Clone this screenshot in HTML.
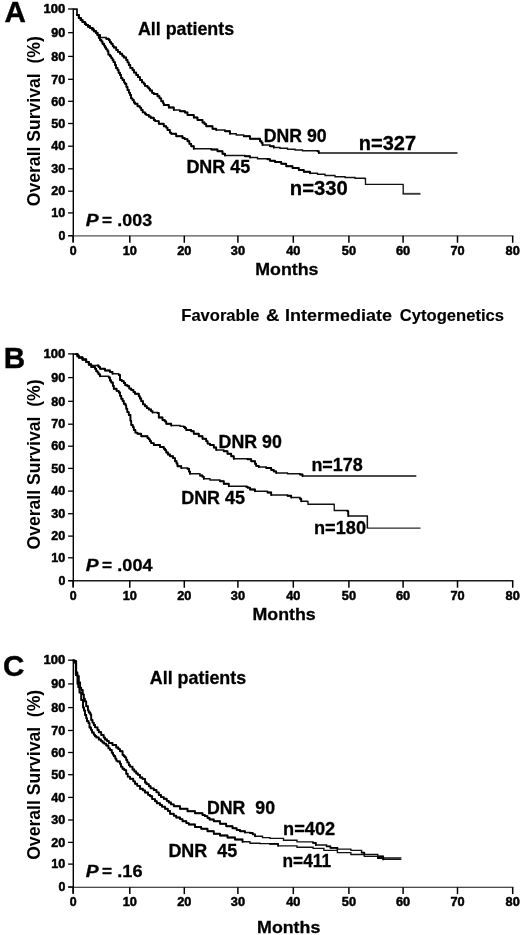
<!DOCTYPE html>
<html><head><meta charset="utf-8"><title>Overall survival</title>
<style>
html,body{margin:0;padding:0;background:#fff;}
body{width:520px;height:935px;overflow:hidden;}
svg{display:block;will-change:transform;}
svg text{font-family:"Liberation Sans",sans-serif;font-weight:bold;fill:#000;}
</style></head><body>
<svg width="520" height="935" viewBox="0 0 520 935">
<rect width="520" height="935" fill="#fff"/>
<line x1="73.30" y1="8.40" x2="73.30" y2="241.70" stroke="#000" stroke-width="1.4"/>
<line x1="68.30" y1="235.85" x2="513.40" y2="235.85" stroke="#555" stroke-width="1.40"/>
<line x1="68.10" y1="9.00" x2="73.30" y2="9.00" stroke="#000" stroke-width="1.3"/>
<text x="65.30" y="13.20" font-size="13.20" text-anchor="end" textLength="21.8" lengthAdjust="spacingAndGlyphs" stroke="#000" stroke-width="0.5" style="">100</text>
<line x1="68.10" y1="32.70" x2="73.30" y2="32.70" stroke="#000" stroke-width="1.3"/>
<text x="65.30" y="36.90" font-size="13.20" text-anchor="end" textLength="14.0" lengthAdjust="spacingAndGlyphs" stroke="#000" stroke-width="0.5" style="">90</text>
<line x1="68.10" y1="56.40" x2="73.30" y2="56.40" stroke="#000" stroke-width="1.3"/>
<text x="65.30" y="60.60" font-size="13.20" text-anchor="end" textLength="14.0" lengthAdjust="spacingAndGlyphs" stroke="#000" stroke-width="0.5" style="">80</text>
<line x1="68.10" y1="79.30" x2="73.30" y2="79.30" stroke="#000" stroke-width="1.3"/>
<text x="65.30" y="83.50" font-size="13.20" text-anchor="end" textLength="14.0" lengthAdjust="spacingAndGlyphs" stroke="#000" stroke-width="0.5" style="">70</text>
<line x1="68.10" y1="101.30" x2="73.30" y2="101.30" stroke="#000" stroke-width="1.3"/>
<text x="65.30" y="105.50" font-size="13.20" text-anchor="end" textLength="14.0" lengthAdjust="spacingAndGlyphs" stroke="#000" stroke-width="0.5" style="">60</text>
<line x1="68.10" y1="123.50" x2="73.30" y2="123.50" stroke="#000" stroke-width="1.3"/>
<text x="65.30" y="127.70" font-size="13.20" text-anchor="end" textLength="14.0" lengthAdjust="spacingAndGlyphs" stroke="#000" stroke-width="0.5" style="">50</text>
<line x1="68.10" y1="146.20" x2="73.30" y2="146.20" stroke="#000" stroke-width="1.3"/>
<text x="65.30" y="150.40" font-size="13.20" text-anchor="end" textLength="14.0" lengthAdjust="spacingAndGlyphs" stroke="#000" stroke-width="0.5" style="">40</text>
<line x1="68.10" y1="168.80" x2="73.30" y2="168.80" stroke="#000" stroke-width="1.3"/>
<text x="65.30" y="173.00" font-size="13.20" text-anchor="end" textLength="14.0" lengthAdjust="spacingAndGlyphs" stroke="#000" stroke-width="0.5" style="">30</text>
<line x1="68.10" y1="191.20" x2="73.30" y2="191.20" stroke="#000" stroke-width="1.3"/>
<text x="65.30" y="195.40" font-size="13.20" text-anchor="end" textLength="14.0" lengthAdjust="spacingAndGlyphs" stroke="#000" stroke-width="0.5" style="">20</text>
<line x1="68.10" y1="212.90" x2="73.30" y2="212.90" stroke="#000" stroke-width="1.3"/>
<text x="65.30" y="217.10" font-size="13.20" text-anchor="end" textLength="14.0" lengthAdjust="spacingAndGlyphs" stroke="#000" stroke-width="0.5" style="">10</text>
<line x1="68.10" y1="235.70" x2="73.30" y2="235.70" stroke="#000" stroke-width="1.3"/>
<text x="65.30" y="239.90" font-size="13.20" text-anchor="end" textLength="6.9" lengthAdjust="spacingAndGlyphs" stroke="#000" stroke-width="0.5" style="">0</text>
<line x1="73.10" y1="235.85" x2="73.10" y2="242.75" stroke="#000" stroke-width="1.5"/>
<text x="73.10" y="255.05" font-size="13.20" text-anchor="middle" textLength="6.9" lengthAdjust="spacingAndGlyphs" stroke="#000" stroke-width="0.5" style="">0</text>
<line x1="129.80" y1="235.85" x2="129.80" y2="242.75" stroke="#000" stroke-width="1.5"/>
<text x="129.80" y="255.05" font-size="13.20" text-anchor="middle" textLength="14.2" lengthAdjust="spacingAndGlyphs" stroke="#000" stroke-width="0.5" style="">10</text>
<line x1="184.30" y1="235.85" x2="184.30" y2="242.75" stroke="#000" stroke-width="1.5"/>
<text x="184.30" y="255.05" font-size="13.20" text-anchor="middle" textLength="14.2" lengthAdjust="spacingAndGlyphs" stroke="#000" stroke-width="0.5" style="">20</text>
<line x1="237.90" y1="235.85" x2="237.90" y2="242.75" stroke="#000" stroke-width="1.5"/>
<text x="237.90" y="255.05" font-size="13.20" text-anchor="middle" textLength="14.2" lengthAdjust="spacingAndGlyphs" stroke="#000" stroke-width="0.5" style="">30</text>
<line x1="293.30" y1="235.85" x2="293.30" y2="242.75" stroke="#000" stroke-width="1.5"/>
<text x="293.30" y="255.05" font-size="13.20" text-anchor="middle" textLength="14.2" lengthAdjust="spacingAndGlyphs" stroke="#000" stroke-width="0.5" style="">40</text>
<line x1="348.90" y1="235.85" x2="348.90" y2="242.75" stroke="#000" stroke-width="1.5"/>
<text x="348.90" y="255.05" font-size="13.20" text-anchor="middle" textLength="14.2" lengthAdjust="spacingAndGlyphs" stroke="#000" stroke-width="0.5" style="">50</text>
<line x1="403.10" y1="235.85" x2="403.10" y2="242.75" stroke="#000" stroke-width="1.5"/>
<text x="403.10" y="255.05" font-size="13.20" text-anchor="middle" textLength="14.2" lengthAdjust="spacingAndGlyphs" stroke="#000" stroke-width="0.5" style="">60</text>
<line x1="457.50" y1="235.85" x2="457.50" y2="242.75" stroke="#000" stroke-width="1.5"/>
<text x="457.50" y="255.05" font-size="13.20" text-anchor="middle" textLength="14.2" lengthAdjust="spacingAndGlyphs" stroke="#000" stroke-width="0.5" style="">70</text>
<line x1="512.70" y1="235.85" x2="512.70" y2="242.75" stroke="#000" stroke-width="1.5"/>
<text x="512.70" y="255.05" font-size="13.20" text-anchor="middle" textLength="14.2" lengthAdjust="spacingAndGlyphs" stroke="#000" stroke-width="0.5" style="">80</text>
<text transform="translate(39.9 121.20) rotate(-90)" font-size="18.2" text-anchor="middle" textLength="170" lengthAdjust="spacingAndGlyphs" xml:space="preserve">Overall Survival  (%)</text>
<text x="255.30" y="274.90" font-size="17.40" text-anchor="start" textLength="63.2" lengthAdjust="spacingAndGlyphs" stroke="#000" stroke-width="0.3" style="">Months</text>
<text x="4.40" y="21.90" font-size="29.60" text-anchor="start" stroke="#000" stroke-width="0.4" style="">A</text>
<line x1="73.30" y1="353.30" x2="73.30" y2="586.60" stroke="#000" stroke-width="1.4"/>
<line x1="68.30" y1="580.85" x2="513.40" y2="580.85" stroke="#1a1a1a" stroke-width="1.50"/>
<line x1="68.10" y1="353.90" x2="73.30" y2="353.90" stroke="#000" stroke-width="1.3"/>
<text x="65.30" y="358.10" font-size="13.20" text-anchor="end" textLength="21.8" lengthAdjust="spacingAndGlyphs" stroke="#000" stroke-width="0.5" style="">100</text>
<line x1="68.10" y1="377.60" x2="73.30" y2="377.60" stroke="#000" stroke-width="1.3"/>
<text x="65.30" y="381.80" font-size="13.20" text-anchor="end" textLength="14.0" lengthAdjust="spacingAndGlyphs" stroke="#000" stroke-width="0.5" style="">90</text>
<line x1="68.10" y1="401.30" x2="73.30" y2="401.30" stroke="#000" stroke-width="1.3"/>
<text x="65.30" y="405.50" font-size="13.20" text-anchor="end" textLength="14.0" lengthAdjust="spacingAndGlyphs" stroke="#000" stroke-width="0.5" style="">80</text>
<line x1="68.10" y1="424.20" x2="73.30" y2="424.20" stroke="#000" stroke-width="1.3"/>
<text x="65.30" y="428.40" font-size="13.20" text-anchor="end" textLength="14.0" lengthAdjust="spacingAndGlyphs" stroke="#000" stroke-width="0.5" style="">70</text>
<line x1="68.10" y1="446.20" x2="73.30" y2="446.20" stroke="#000" stroke-width="1.3"/>
<text x="65.30" y="450.40" font-size="13.20" text-anchor="end" textLength="14.0" lengthAdjust="spacingAndGlyphs" stroke="#000" stroke-width="0.5" style="">60</text>
<line x1="68.10" y1="468.40" x2="73.30" y2="468.40" stroke="#000" stroke-width="1.3"/>
<text x="65.30" y="472.60" font-size="13.20" text-anchor="end" textLength="14.0" lengthAdjust="spacingAndGlyphs" stroke="#000" stroke-width="0.5" style="">50</text>
<line x1="68.10" y1="491.10" x2="73.30" y2="491.10" stroke="#000" stroke-width="1.3"/>
<text x="65.30" y="495.30" font-size="13.20" text-anchor="end" textLength="14.0" lengthAdjust="spacingAndGlyphs" stroke="#000" stroke-width="0.5" style="">40</text>
<line x1="68.10" y1="513.70" x2="73.30" y2="513.70" stroke="#000" stroke-width="1.3"/>
<text x="65.30" y="517.90" font-size="13.20" text-anchor="end" textLength="14.0" lengthAdjust="spacingAndGlyphs" stroke="#000" stroke-width="0.5" style="">30</text>
<line x1="68.10" y1="536.10" x2="73.30" y2="536.10" stroke="#000" stroke-width="1.3"/>
<text x="65.30" y="540.30" font-size="13.20" text-anchor="end" textLength="14.0" lengthAdjust="spacingAndGlyphs" stroke="#000" stroke-width="0.5" style="">20</text>
<line x1="68.10" y1="557.80" x2="73.30" y2="557.80" stroke="#000" stroke-width="1.3"/>
<text x="65.30" y="562.00" font-size="13.20" text-anchor="end" textLength="14.0" lengthAdjust="spacingAndGlyphs" stroke="#000" stroke-width="0.5" style="">10</text>
<line x1="68.10" y1="580.60" x2="73.30" y2="580.60" stroke="#000" stroke-width="1.3"/>
<text x="65.30" y="584.80" font-size="13.20" text-anchor="end" textLength="6.9" lengthAdjust="spacingAndGlyphs" stroke="#000" stroke-width="0.5" style="">0</text>
<line x1="73.10" y1="580.85" x2="73.10" y2="587.75" stroke="#000" stroke-width="1.5"/>
<text x="73.10" y="600.05" font-size="13.20" text-anchor="middle" textLength="6.9" lengthAdjust="spacingAndGlyphs" stroke="#000" stroke-width="0.5" style="">0</text>
<line x1="129.80" y1="580.85" x2="129.80" y2="587.75" stroke="#000" stroke-width="1.5"/>
<text x="129.80" y="600.05" font-size="13.20" text-anchor="middle" textLength="14.2" lengthAdjust="spacingAndGlyphs" stroke="#000" stroke-width="0.5" style="">10</text>
<line x1="184.30" y1="580.85" x2="184.30" y2="587.75" stroke="#000" stroke-width="1.5"/>
<text x="184.30" y="600.05" font-size="13.20" text-anchor="middle" textLength="14.2" lengthAdjust="spacingAndGlyphs" stroke="#000" stroke-width="0.5" style="">20</text>
<line x1="237.90" y1="580.85" x2="237.90" y2="587.75" stroke="#000" stroke-width="1.5"/>
<text x="237.90" y="600.05" font-size="13.20" text-anchor="middle" textLength="14.2" lengthAdjust="spacingAndGlyphs" stroke="#000" stroke-width="0.5" style="">30</text>
<line x1="293.30" y1="580.85" x2="293.30" y2="587.75" stroke="#000" stroke-width="1.5"/>
<text x="293.30" y="600.05" font-size="13.20" text-anchor="middle" textLength="14.2" lengthAdjust="spacingAndGlyphs" stroke="#000" stroke-width="0.5" style="">40</text>
<line x1="348.90" y1="580.85" x2="348.90" y2="587.75" stroke="#000" stroke-width="1.5"/>
<text x="348.90" y="600.05" font-size="13.20" text-anchor="middle" textLength="14.2" lengthAdjust="spacingAndGlyphs" stroke="#000" stroke-width="0.5" style="">50</text>
<line x1="403.10" y1="580.85" x2="403.10" y2="587.75" stroke="#000" stroke-width="1.5"/>
<text x="403.10" y="600.05" font-size="13.20" text-anchor="middle" textLength="14.2" lengthAdjust="spacingAndGlyphs" stroke="#000" stroke-width="0.5" style="">60</text>
<line x1="457.50" y1="580.85" x2="457.50" y2="587.75" stroke="#000" stroke-width="1.5"/>
<text x="457.50" y="600.05" font-size="13.20" text-anchor="middle" textLength="14.2" lengthAdjust="spacingAndGlyphs" stroke="#000" stroke-width="0.5" style="">70</text>
<line x1="512.70" y1="580.85" x2="512.70" y2="587.75" stroke="#000" stroke-width="1.5"/>
<text x="512.70" y="600.05" font-size="13.20" text-anchor="middle" textLength="14.2" lengthAdjust="spacingAndGlyphs" stroke="#000" stroke-width="0.5" style="">80</text>
<text transform="translate(39.9 464.50) rotate(-90)" font-size="18.2" text-anchor="middle" textLength="170" lengthAdjust="spacingAndGlyphs" xml:space="preserve">Overall Survival  (%)</text>
<text x="252.50" y="619.90" font-size="17.40" text-anchor="start" textLength="63.2" lengthAdjust="spacingAndGlyphs" stroke="#000" stroke-width="0.3" style="">Months</text>
<text x="3.70" y="368.30" font-size="29.60" text-anchor="start" stroke="#000" stroke-width="0.4" style="">B</text>
<line x1="73.30" y1="659.60" x2="73.30" y2="892.90" stroke="#000" stroke-width="1.4"/>
<line x1="68.30" y1="887.20" x2="513.40" y2="887.20" stroke="#111" stroke-width="1.10"/>
<line x1="68.10" y1="660.20" x2="73.30" y2="660.20" stroke="#000" stroke-width="1.3"/>
<text x="65.30" y="664.40" font-size="13.20" text-anchor="end" textLength="21.8" lengthAdjust="spacingAndGlyphs" stroke="#000" stroke-width="0.5" style="">100</text>
<line x1="68.10" y1="683.90" x2="73.30" y2="683.90" stroke="#000" stroke-width="1.3"/>
<text x="65.30" y="688.10" font-size="13.20" text-anchor="end" textLength="14.0" lengthAdjust="spacingAndGlyphs" stroke="#000" stroke-width="0.5" style="">90</text>
<line x1="68.10" y1="707.60" x2="73.30" y2="707.60" stroke="#000" stroke-width="1.3"/>
<text x="65.30" y="711.80" font-size="13.20" text-anchor="end" textLength="14.0" lengthAdjust="spacingAndGlyphs" stroke="#000" stroke-width="0.5" style="">80</text>
<line x1="68.10" y1="730.50" x2="73.30" y2="730.50" stroke="#000" stroke-width="1.3"/>
<text x="65.30" y="734.70" font-size="13.20" text-anchor="end" textLength="14.0" lengthAdjust="spacingAndGlyphs" stroke="#000" stroke-width="0.5" style="">70</text>
<line x1="68.10" y1="752.50" x2="73.30" y2="752.50" stroke="#000" stroke-width="1.3"/>
<text x="65.30" y="756.70" font-size="13.20" text-anchor="end" textLength="14.0" lengthAdjust="spacingAndGlyphs" stroke="#000" stroke-width="0.5" style="">60</text>
<line x1="68.10" y1="774.70" x2="73.30" y2="774.70" stroke="#000" stroke-width="1.3"/>
<text x="65.30" y="778.90" font-size="13.20" text-anchor="end" textLength="14.0" lengthAdjust="spacingAndGlyphs" stroke="#000" stroke-width="0.5" style="">50</text>
<line x1="68.10" y1="797.40" x2="73.30" y2="797.40" stroke="#000" stroke-width="1.3"/>
<text x="65.30" y="801.60" font-size="13.20" text-anchor="end" textLength="14.0" lengthAdjust="spacingAndGlyphs" stroke="#000" stroke-width="0.5" style="">40</text>
<line x1="68.10" y1="820.00" x2="73.30" y2="820.00" stroke="#000" stroke-width="1.3"/>
<text x="65.30" y="824.20" font-size="13.20" text-anchor="end" textLength="14.0" lengthAdjust="spacingAndGlyphs" stroke="#000" stroke-width="0.5" style="">30</text>
<line x1="68.10" y1="842.40" x2="73.30" y2="842.40" stroke="#000" stroke-width="1.3"/>
<text x="65.30" y="846.60" font-size="13.20" text-anchor="end" textLength="14.0" lengthAdjust="spacingAndGlyphs" stroke="#000" stroke-width="0.5" style="">20</text>
<line x1="68.10" y1="864.10" x2="73.30" y2="864.10" stroke="#000" stroke-width="1.3"/>
<text x="65.30" y="868.30" font-size="13.20" text-anchor="end" textLength="14.0" lengthAdjust="spacingAndGlyphs" stroke="#000" stroke-width="0.5" style="">10</text>
<line x1="68.10" y1="886.90" x2="73.30" y2="886.90" stroke="#000" stroke-width="1.3"/>
<text x="65.30" y="891.10" font-size="13.20" text-anchor="end" textLength="6.9" lengthAdjust="spacingAndGlyphs" stroke="#000" stroke-width="0.5" style="">0</text>
<line x1="73.10" y1="887.20" x2="73.10" y2="894.10" stroke="#000" stroke-width="1.5"/>
<text x="73.10" y="906.40" font-size="13.20" text-anchor="middle" textLength="6.9" lengthAdjust="spacingAndGlyphs" stroke="#000" stroke-width="0.5" style="">0</text>
<line x1="129.80" y1="887.20" x2="129.80" y2="894.10" stroke="#000" stroke-width="1.5"/>
<text x="129.80" y="906.40" font-size="13.20" text-anchor="middle" textLength="14.2" lengthAdjust="spacingAndGlyphs" stroke="#000" stroke-width="0.5" style="">10</text>
<line x1="184.30" y1="887.20" x2="184.30" y2="894.10" stroke="#000" stroke-width="1.5"/>
<text x="184.30" y="906.40" font-size="13.20" text-anchor="middle" textLength="14.2" lengthAdjust="spacingAndGlyphs" stroke="#000" stroke-width="0.5" style="">20</text>
<line x1="237.90" y1="887.20" x2="237.90" y2="894.10" stroke="#000" stroke-width="1.5"/>
<text x="237.90" y="906.40" font-size="13.20" text-anchor="middle" textLength="14.2" lengthAdjust="spacingAndGlyphs" stroke="#000" stroke-width="0.5" style="">30</text>
<line x1="293.30" y1="887.20" x2="293.30" y2="894.10" stroke="#000" stroke-width="1.5"/>
<text x="293.30" y="906.40" font-size="13.20" text-anchor="middle" textLength="14.2" lengthAdjust="spacingAndGlyphs" stroke="#000" stroke-width="0.5" style="">40</text>
<line x1="348.90" y1="887.20" x2="348.90" y2="894.10" stroke="#000" stroke-width="1.5"/>
<text x="348.90" y="906.40" font-size="13.20" text-anchor="middle" textLength="14.2" lengthAdjust="spacingAndGlyphs" stroke="#000" stroke-width="0.5" style="">50</text>
<line x1="403.10" y1="887.20" x2="403.10" y2="894.10" stroke="#000" stroke-width="1.5"/>
<text x="403.10" y="906.40" font-size="13.20" text-anchor="middle" textLength="14.2" lengthAdjust="spacingAndGlyphs" stroke="#000" stroke-width="0.5" style="">60</text>
<line x1="457.50" y1="887.20" x2="457.50" y2="894.10" stroke="#000" stroke-width="1.5"/>
<text x="457.50" y="906.40" font-size="13.20" text-anchor="middle" textLength="14.2" lengthAdjust="spacingAndGlyphs" stroke="#000" stroke-width="0.5" style="">70</text>
<line x1="512.70" y1="887.20" x2="512.70" y2="894.10" stroke="#000" stroke-width="1.5"/>
<text x="512.70" y="906.40" font-size="13.20" text-anchor="middle" textLength="14.2" lengthAdjust="spacingAndGlyphs" stroke="#000" stroke-width="0.5" style="">80</text>
<text transform="translate(39.9 774.80) rotate(-90)" font-size="18.2" text-anchor="middle" textLength="170" lengthAdjust="spacingAndGlyphs" xml:space="preserve">Overall Survival  (%)</text>
<text x="257.10" y="932.50" font-size="17.40" text-anchor="start" textLength="63.2" lengthAdjust="spacingAndGlyphs" stroke="#000" stroke-width="0.3" style="">Months</text>
<text x="2.90" y="676.00" font-size="29.60" text-anchor="start" stroke="#000" stroke-width="0.4" style="">C</text>
<path d="M402.6 193.8 H420.5" fill="none" stroke="#3a3a3a" stroke-width="1.9"/>
<path d="M367.4 516.1 V528 H420.5" fill="none" stroke="#2a2a2a" stroke-width="1.25"/>
<path d="M73.25 9.25 H76.25 V9.25 H77.00 V15.00 H78.75 V18.00 H80.52 V20.12 H82.50 V22.00 H84.71 V24.15 H86.25 V25.00 H87.89 V26.01 H90.00 V28.00 H92.72 V29.09 H93.75 V31.25 H96.08 V32.89 H97.50 V35.00 H100.00 V37.50 H106.25 V38.75 H108.75 V40.00 H109.82 V42.26 H111.25 V43.75 H112.65 V46.09 H113.75 V47.50 H116.25 V50.00 H117.85 V51.88 H120.00 V53.75 H122.28 V55.74 H123.75 V57.50 H126.25 V60.00 H127.52 V62.40 H128.75 V65.00 H130.32 V67.93 H132.50 V70.00 H133.97 V72.53 H136.25 V75.00 H138.06 V77.20 H140.00 V80.00 H142.00 V82.44 H143.75 V83.75 H144.92 V85.91 H147.50 V87.50 H148.93 V88.71 H150.00 V90.50 H152.06 V92.78 H153.75 V94.00 H157.50 V96.25 H159.48 V98.37 H161.25 V101.25 H163.11 V103.10 H163.75 V105.00 H168.75 V107.50 H173.75 V110.00 H180.00 V111.25 H185.00 V112.50 H187.50 V115.00 H193.75 V117.50 H197.50 V120.00 H202.50 V122.50 H204.51 V124.07 H206.25 V126.25 H212.50 V128.75 H216.25 V130.00 H225.00 V131.25 H230.00 V133.75 H236.25 V135.00 H243.75 V136.25 H250.00 V138.75 H260.00 V141.25 H261.49 V142.72 H262.50 V145.00 H270.00 V146.25 H273.75 V147.50 H280.00 V148.25 H287.50 V149.25 H295.00 V150.00 H302.50 V150.75 H317.50 V151.25 H318.75 V153.00 H457.50 V153.00" fill="none" stroke="#111" stroke-width="1.35" stroke-linejoin="miter"/>
<path d="M77.00 15.00 H78.75 V18.00 M78.75 18.00 H80.52 V20.12 H82.50 V22.00 M82.50 22.00 H84.71 V24.15 H86.25 V25.00 M86.25 25.00 H87.89 V26.01 H90.00 V28.00 M90.00 28.00 H92.72 V29.09 H93.75 V31.25 M93.75 31.25 H96.08 V32.89 H97.50 V35.00 M97.50 35.00 H100.00 V37.50 M106.25 38.75 H108.75 V40.00 M108.75 40.00 H109.82 V42.26 H111.25 V43.75 M111.25 43.75 H112.65 V46.09 H113.75 V47.50 M113.75 47.50 H116.25 V50.00 M116.25 50.00 H117.85 V51.88 H120.00 V53.75 M120.00 53.75 H122.28 V55.74 H123.75 V57.50 M123.75 57.50 H126.25 V60.00 M126.25 60.00 H127.52 V62.40 H128.75 V65.00 M128.75 65.00 H130.32 V67.93 H132.50 V70.00 M132.50 70.00 H133.97 V72.53 H136.25 V75.00 M136.25 75.00 H138.06 V77.20 H140.00 V80.00 M140.00 80.00 H142.00 V82.44 H143.75 V83.75 M143.75 83.75 H144.92 V85.91 H147.50 V87.50 M147.50 87.50 H148.93 V88.71 H150.00 V90.50 M150.00 90.50 H152.06 V92.78 H153.75 V94.00 M153.75 94.00 H157.50 V96.25 M157.50 96.25 H159.48 V98.37 H161.25 V101.25 M161.25 101.25 H163.11 V103.10 H163.75 V105.00 M163.75 105.00 H168.75 V107.50 M168.75 107.50 H173.75 V110.00 M180.00 111.25 H185.00 V112.50 M185.00 112.50 H187.50 V115.00 M187.50 115.00 H193.75 V117.50 M193.75 117.50 H197.50 V120.00 M197.50 120.00 H202.50 V122.50 M202.50 122.50 H204.51 V124.07 H206.25 V126.25 M206.25 126.25 H212.50 V128.75 M212.50 128.75 H216.25 V130.00 M225.00 131.25 H230.00 V133.75 M243.75 136.25 H250.00 V138.75 M250.00 138.75 H260.00 V141.25 M260.00 141.25 H261.49 V142.72 H262.50 V145.00 M270.00 146.25 H273.75 V147.50 M317.50 151.25 H318.75 V153.00" fill="none" stroke="#000" stroke-width="1.8" stroke-linejoin="round" stroke-linecap="round"/>
<path d="M73.25 9.25 H76.25 V9.25 H77.00 V15.00 H78.75 V18.00 H80.97 V20.00 H82.50 V22.00 H84.83 V23.53 H86.25 V25.00 H87.94 V26.74 H90.00 V28.00 H92.07 V29.64 H93.75 V31.25 H95.78 V32.70 H97.50 V35.00 H98.73 V37.92 H100.00 V40.00 H101.41 V41.51 H102.50 V43.75 H104.08 V45.69 H105.00 V47.50 H106.17 V49.36 H107.50 V51.25 H108.41 V54.69 H110.00 V56.25 H111.27 V58.06 H112.50 V60.00 H113.52 V62.15 H115.00 V65.00 H115.95 V67.96 H117.50 V70.00 H118.57 V72.77 H120.00 V75.00 H121.17 V78.21 H122.50 V80.00 H124.12 V82.38 H125.00 V83.75 H126.37 V86.85 H127.50 V90.00 H128.79 V92.67 H130.00 V95.00 H131.03 V98.31 H132.50 V100.00 H133.80 V102.51 H135.00 V103.75 H137.50 V106.25 H139.74 V107.55 H141.25 V110.00 H142.65 V112.42 H145.00 V113.75 H146.27 V114.94 H148.75 V116.50 H150.66 V117.77 H153.75 V120.00 H155.18 V121.12 H158.75 V123.75 H163.75 V126.25 H166.25 V127.62 H167.50 V130.00 H169.82 V132.61 H171.25 V133.75 H176.25 V136.25 H182.50 V138.00 H184.61 V139.17 H187.50 V141.25 H189.39 V143.89 H191.25 V146.25 H193.75 V148.75 H211.25 V149.50 H217.50 V151.25 H222.50 V153.75 H225.00 V155.50 H245.00 V156.25 H250.00 V157.50 H257.50 V158.75 H267.50 V159.25 H270.00 V160.75 H275.00 V162.00 H281.25 V163.75 H286.25 V166.25 H292.50 V168.00 H298.75 V170.00 H303.75 V171.75 H310.00 V173.25 H317.50 V174.25 H325.00 V175.50 H335.00 V176.75 H345.00 V177.50 H355.00 V178.25 H365.00 V178.75 H365.50 V184.40 H403.00 V184.80 H403.20 V193.80" fill="none" stroke="#111" stroke-width="1.35" stroke-linejoin="miter"/>
<path d="M77.00 15.00 H78.75 V18.00 M78.75 18.00 H80.97 V20.00 H82.50 V22.00 M82.50 22.00 H84.83 V23.53 H86.25 V25.00 M86.25 25.00 H87.94 V26.74 H90.00 V28.00 M90.00 28.00 H92.07 V29.64 H93.75 V31.25 M93.75 31.25 H95.78 V32.70 H97.50 V35.00 M97.50 35.00 H98.73 V37.92 H100.00 V40.00 M100.00 40.00 H101.41 V41.51 H102.50 V43.75 M102.50 43.75 H104.08 V45.69 H105.00 V47.50 M105.00 47.50 H106.17 V49.36 H107.50 V51.25 M107.50 51.25 H108.41 V54.69 H110.00 V56.25 M110.00 56.25 H111.27 V58.06 H112.50 V60.00 M112.50 60.00 H113.52 V62.15 H115.00 V65.00 M115.00 65.00 H115.95 V67.96 H117.50 V70.00 M117.50 70.00 H118.57 V72.77 H120.00 V75.00 M120.00 75.00 H121.17 V78.21 H122.50 V80.00 M122.50 80.00 H124.12 V82.38 H125.00 V83.75 M125.00 83.75 H126.37 V86.85 H127.50 V90.00 M127.50 90.00 H128.79 V92.67 H130.00 V95.00 M130.00 95.00 H131.03 V98.31 H132.50 V100.00 M132.50 100.00 H133.80 V102.51 H135.00 V103.75 M135.00 103.75 H137.50 V106.25 M137.50 106.25 H139.74 V107.55 H141.25 V110.00 M141.25 110.00 H142.65 V112.42 H145.00 V113.75 M145.00 113.75 H146.27 V114.94 H148.75 V116.50 M148.75 116.50 H150.66 V117.77 H153.75 V120.00 M153.75 120.00 H155.18 V121.12 H158.75 V123.75 M158.75 123.75 H163.75 V126.25 M163.75 126.25 H166.25 V127.62 H167.50 V130.00 M167.50 130.00 H169.82 V132.61 H171.25 V133.75 M171.25 133.75 H176.25 V136.25 M176.25 136.25 H182.50 V138.00 M182.50 138.00 H184.61 V139.17 H187.50 V141.25 M187.50 141.25 H189.39 V143.89 H191.25 V146.25 M191.25 146.25 H193.75 V148.75 M211.25 149.50 H217.50 V151.25 M217.50 151.25 H222.50 V153.75 M222.50 153.75 H225.00 V155.50 M245.00 156.25 H250.00 V157.50 M267.50 159.25 H270.00 V160.75 M270.00 160.75 H275.00 V162.00 M275.00 162.00 H281.25 V163.75 M281.25 163.75 H286.25 V166.25 M286.25 166.25 H292.50 V168.00 M292.50 168.00 H298.75 V170.00 M298.75 170.00 H303.75 V171.75 M303.75 171.75 H310.00 V173.25" fill="none" stroke="#000" stroke-width="1.8" stroke-linejoin="round" stroke-linecap="round"/>
<path d="M73.25 354.25 H76.25 V354.25 H77.35 V356.41 H78.75 V357.50 H82.50 V359.50 H86.25 V362.00 H88.75 V364.50 H91.25 V365.50 H97.50 V365.50 H98.63 V366.97 H100.00 V368.75 H105.00 V370.50 H110.00 V372.00 H112.50 V373.75 H118.75 V375.00 H120.00 V380.00 H121.73 V381.22 H123.75 V383.00 H125.24 V385.27 H127.50 V386.25 H129.26 V388.54 H131.25 V390.00 H133.44 V392.00 H135.00 V393.75 H138.75 V396.25 H139.84 V398.51 H141.25 V401.25 H143.04 V404.44 H145.00 V406.25 H146.81 V408.10 H148.75 V409.50 H151.11 V411.16 H152.50 V412.50 H157.50 V413.00 H158.75 V417.50 H162.50 V420.00 H164.69 V421.44 H166.25 V423.75 H171.25 V425.50 H180.00 V426.25 H183.75 V427.00 H184.96 V428.20 H186.25 V430.00 H191.25 V431.25 H193.75 V433.75 H198.75 V436.25 H202.50 V438.75 H206.25 V441.25 H207.59 V443.55 H210.00 V445.00 H213.75 V447.50 H216.25 V450.00 H223.75 V451.25 H227.50 V453.75 H231.25 V456.25 H233.75 V458.75 H247.50 V459.25 H251.25 V461.25 H255.00 V463.75 H256.19 V465.92 H258.75 V467.00 H266.25 V468.00 H271.25 V470.00 H273.72 V471.45 H276.25 V473.00 H287.50 V473.75 H300.00 V474.50 H302.50 V476.00 H416.30 V476.00" fill="none" stroke="#111" stroke-width="1.35" stroke-linejoin="miter"/>
<path d="M76.25 354.25 H77.35 V356.41 H78.75 V357.50 M78.75 357.50 H82.50 V359.50 M82.50 359.50 H86.25 V362.00 M86.25 362.00 H88.75 V364.50 M88.75 364.50 H91.25 V365.50 M97.50 365.50 H98.63 V366.97 H100.00 V368.75 M100.00 368.75 H105.00 V370.50 M105.00 370.50 H110.00 V372.00 M110.00 372.00 H112.50 V373.75 M118.75 375.00 H120.00 V380.00 M120.00 380.00 H121.73 V381.22 H123.75 V383.00 M123.75 383.00 H125.24 V385.27 H127.50 V386.25 M127.50 386.25 H129.26 V388.54 H131.25 V390.00 M131.25 390.00 H133.44 V392.00 H135.00 V393.75 M135.00 393.75 H138.75 V396.25 M138.75 396.25 H139.84 V398.51 H141.25 V401.25 M141.25 401.25 H143.04 V404.44 H145.00 V406.25 M145.00 406.25 H146.81 V408.10 H148.75 V409.50 M148.75 409.50 H151.11 V411.16 H152.50 V412.50 M157.50 413.00 H158.75 V417.50 M158.75 417.50 H162.50 V420.00 M162.50 420.00 H164.69 V421.44 H166.25 V423.75 M166.25 423.75 H171.25 V425.50 M183.75 427.00 H184.96 V428.20 H186.25 V430.00 M186.25 430.00 H191.25 V431.25 M191.25 431.25 H193.75 V433.75 M193.75 433.75 H198.75 V436.25 M198.75 436.25 H202.50 V438.75 M202.50 438.75 H206.25 V441.25 M206.25 441.25 H207.59 V443.55 H210.00 V445.00 M210.00 445.00 H213.75 V447.50 M213.75 447.50 H216.25 V450.00 M223.75 451.25 H227.50 V453.75 M227.50 453.75 H231.25 V456.25 M231.25 456.25 H233.75 V458.75 M247.50 459.25 H251.25 V461.25 M251.25 461.25 H255.00 V463.75 M255.00 463.75 H256.19 V465.92 H258.75 V467.00 M266.25 468.00 H271.25 V470.00 M271.25 470.00 H273.72 V471.45 H276.25 V473.00 M300.00 474.50 H302.50 V476.00" fill="none" stroke="#000" stroke-width="1.8" stroke-linejoin="round" stroke-linecap="round"/>
<path d="M73.25 354.25 H76.25 V354.25 H77.69 V355.50 H78.75 V357.50 H82.50 V359.50 H86.25 V362.00 H88.75 V364.50 H91.25 V367.00 H95.00 V368.75 H96.26 V371.20 H97.50 V372.50 H98.55 V374.29 H100.00 V376.25 H108.75 V377.50 H109.96 V380.49 H111.25 V382.50 H112.81 V385.70 H113.75 V388.75 H116.58 V390.88 H118.75 V392.50 H120.02 V395.78 H121.25 V398.75 H122.60 V401.00 H123.75 V403.75 H125.52 V405.38 H126.25 V408.75 H127.32 V412.10 H128.75 V415.00 H130.46 V420.65 H131.25 V425.00 H132.73 V427.04 H133.75 V430.00 H135.39 V432.63 H137.50 V433.75 H141.25 V436.25 H147.50 V438.00 H148.68 V439.35 H150.00 V441.25 H151.17 V443.09 H153.75 V445.00 H160.00 V447.00 H163.75 V448.75 H165.09 V450.20 H166.25 V452.50 H167.97 V454.50 H170.00 V456.25 H172.99 V458.13 H175.00 V461.25 H176.55 V463.49 H177.50 V466.25 H181.25 V468.00 H187.50 V468.75 H189.04 V471.54 H190.00 V473.75 H200.00 V475.50 H202.42 V476.65 H203.75 V478.75 H210.00 V480.00 H220.00 V481.25 H223.75 V483.75 H228.75 V486.25 H246.25 V486.75 H247.63 V487.71 H250.00 V489.50 H255.00 V491.25 H267.50 V492.50 H271.25 V495.00 H287.50 V495.75 H291.25 V497.50 H300.00 V498.75 H301.25 V501.25 H307.50 V501.75 H308.00 V504.25 H333.75 V504.50 H334.25 V510.50 H347.50 V511.20 H348.30 V516.00 H367.10 V516.10 H367.40 V528.00" fill="none" stroke="#111" stroke-width="1.35" stroke-linejoin="miter"/>
<path d="M76.25 354.25 H77.69 V355.50 H78.75 V357.50 M78.75 357.50 H82.50 V359.50 M82.50 359.50 H86.25 V362.00 M86.25 362.00 H88.75 V364.50 M88.75 364.50 H91.25 V367.00 M91.25 367.00 H95.00 V368.75 M95.00 368.75 H96.26 V371.20 H97.50 V372.50 M97.50 372.50 H98.55 V374.29 H100.00 V376.25 M108.75 377.50 H109.96 V380.49 H111.25 V382.50 M111.25 382.50 H112.81 V385.70 H113.75 V388.75 M113.75 388.75 H116.58 V390.88 H118.75 V392.50 M118.75 392.50 H120.02 V395.78 H121.25 V398.75 M121.25 398.75 H122.60 V401.00 H123.75 V403.75 M123.75 403.75 H125.52 V405.38 H126.25 V408.75 M126.25 408.75 H127.32 V412.10 H128.75 V415.00 M128.75 415.00 H130.46 V420.65 H131.25 V425.00 M131.25 425.00 H132.73 V427.04 H133.75 V430.00 M133.75 430.00 H135.39 V432.63 H137.50 V433.75 M137.50 433.75 H141.25 V436.25 M141.25 436.25 H147.50 V438.00 M147.50 438.00 H148.68 V439.35 H150.00 V441.25 M150.00 441.25 H151.17 V443.09 H153.75 V445.00 M153.75 445.00 H160.00 V447.00 M160.00 447.00 H163.75 V448.75 M163.75 448.75 H165.09 V450.20 H166.25 V452.50 M166.25 452.50 H167.97 V454.50 H170.00 V456.25 M170.00 456.25 H172.99 V458.13 H175.00 V461.25 M175.00 461.25 H176.55 V463.49 H177.50 V466.25 M177.50 466.25 H181.25 V468.00 M187.50 468.75 H189.04 V471.54 H190.00 V473.75 M200.00 475.50 H202.42 V476.65 H203.75 V478.75 M220.00 481.25 H223.75 V483.75 M223.75 483.75 H228.75 V486.25 M246.25 486.75 H247.63 V487.71 H250.00 V489.50 M250.00 489.50 H255.00 V491.25 M267.50 492.50 H271.25 V495.00 M287.50 495.75 H291.25 V497.50 M300.00 498.75 H301.25 V501.25 M347.50 511.20 H348.30 V516.00" fill="none" stroke="#000" stroke-width="1.8" stroke-linejoin="round" stroke-linecap="round"/>
<path d="M73.25 660.50 H75.00 V661.25 H76.25 V672.50 H77.41 V676.04 H78.75 V682.50 H80.14 V687.72 H81.25 V690.00 H82.66 V694.31 H83.75 V698.75 H84.79 V701.41 H86.25 V706.25 H87.89 V710.44 H88.75 V712.50 H90.35 V714.51 H91.25 V720.00 H92.49 V722.60 H93.75 V725.00 H95.07 V727.34 H97.50 V730.00 H98.73 V732.24 H101.25 V735.00 H103.63 V737.54 H105.00 V739.50 H107.00 V740.97 H108.75 V743.00 H112.50 V745.00 H116.25 V747.50 H118.40 V749.20 H120.00 V751.25 H122.56 V754.94 H123.75 V756.25 H124.95 V757.33 H126.25 V760.00 H127.36 V762.41 H128.75 V765.00 H129.95 V766.61 H132.50 V769.50 H134.37 V771.49 H136.25 V773.50 H137.92 V774.81 H140.00 V777.50 H142.44 V778.85 H145.00 V782.50 H146.55 V784.15 H148.75 V786.25 H150.60 V788.36 H153.75 V790.00 H156.48 V792.36 H158.75 V795.00 H160.96 V797.05 H163.75 V798.75 H166.70 V800.82 H168.75 V802.50 H171.01 V804.41 H173.75 V806.25 H180.00 V808.75 H187.50 V811.25 H195.00 V813.25 H202.50 V815.00 H204.84 V816.18 H207.50 V818.00 H209.54 V819.48 H213.75 V821.25 H220.00 V823.75 H226.25 V826.25 H232.50 V828.25 H236.65 V830.00 H240.00 V831.25 H245.00 V832.50 H250.00 V833.00 H252.72 V834.41 H255.00 V836.25 H262.50 V837.60 H270.00 V838.30 H283.50 V840.20 H297.00 V841.80 H313.10 V842.90 H315.80 V845.00 H326.60 V846.40 H330.43 V847.79 H337.40 V849.10 H350.90 V850.40 H361.60 V852.60 H364.30 V854.50 H377.80 V856.40 H383.20 V858.00 H400.70 V858.40" fill="none" stroke="#111" stroke-width="1.35" stroke-linejoin="miter"/>
<path d="M75.00 661.25 H76.25 V672.50 M76.25 672.50 H77.41 V676.04 H78.75 V682.50 M78.75 682.50 H80.14 V687.72 H81.25 V690.00 M81.25 690.00 H82.66 V694.31 H83.75 V698.75 M83.75 698.75 H84.79 V701.41 H86.25 V706.25 M86.25 706.25 H87.89 V710.44 H88.75 V712.50 M88.75 712.50 H90.35 V714.51 H91.25 V720.00 M91.25 720.00 H92.49 V722.60 H93.75 V725.00 M93.75 725.00 H95.07 V727.34 H97.50 V730.00 M97.50 730.00 H98.73 V732.24 H101.25 V735.00 M101.25 735.00 H103.63 V737.54 H105.00 V739.50 M105.00 739.50 H107.00 V740.97 H108.75 V743.00 M108.75 743.00 H112.50 V745.00 M112.50 745.00 H116.25 V747.50 M116.25 747.50 H118.40 V749.20 H120.00 V751.25 M120.00 751.25 H122.56 V754.94 H123.75 V756.25 M123.75 756.25 H124.95 V757.33 H126.25 V760.00 M126.25 760.00 H127.36 V762.41 H128.75 V765.00 M128.75 765.00 H129.95 V766.61 H132.50 V769.50 M132.50 769.50 H134.37 V771.49 H136.25 V773.50 M136.25 773.50 H137.92 V774.81 H140.00 V777.50 M140.00 777.50 H142.44 V778.85 H145.00 V782.50 M145.00 782.50 H146.55 V784.15 H148.75 V786.25 M148.75 786.25 H150.60 V788.36 H153.75 V790.00 M153.75 790.00 H156.48 V792.36 H158.75 V795.00 M158.75 795.00 H160.96 V797.05 H163.75 V798.75 M163.75 798.75 H166.70 V800.82 H168.75 V802.50 M168.75 802.50 H171.01 V804.41 H173.75 V806.25 M173.75 806.25 H180.00 V808.75 M180.00 808.75 H187.50 V811.25 M187.50 811.25 H195.00 V813.25 M195.00 813.25 H202.50 V815.00 M202.50 815.00 H204.84 V816.18 H207.50 V818.00 M207.50 818.00 H209.54 V819.48 H213.75 V821.25 M213.75 821.25 H220.00 V823.75 M220.00 823.75 H226.25 V826.25 M226.25 826.25 H232.50 V828.25 M232.50 828.25 H236.65 V830.00 H240.00 V831.25 M240.00 831.25 H245.00 V832.50 M250.00 833.00 H252.72 V834.41 H255.00 V836.25 M313.10 842.90 H315.80 V845.00 M326.60 846.40 H330.43 V847.79 H337.40 V849.10 M361.60 852.60 H364.30 V854.50 M377.80 856.40 H383.20 V858.00" fill="none" stroke="#000" stroke-width="1.8" stroke-linejoin="round" stroke-linecap="round"/>
<path d="M73.25 660.50 H74.50 V662.50 H75.75 V675.00 H77.50 V683.75 H78.37 V687.31 H79.50 V692.50 H81.25 V700.00 H83.00 V707.50 H83.94 V710.48 H85.00 V715.00 H86.26 V718.27 H87.00 V721.25 H88.54 V723.21 H89.50 V727.50 H90.95 V729.80 H92.00 V732.50 H93.77 V734.64 H95.00 V736.25 H96.42 V737.47 H98.75 V739.50 H100.93 V740.97 H102.50 V742.50 H104.26 V743.64 H106.25 V745.50 H108.42 V748.42 H110.00 V750.00 H111.71 V752.72 H112.98 V754.62 H113.75 V756.25 H115.33 V758.58 H116.36 V760.63 H117.50 V761.50 H120.00 V763.75 H120.93 V766.66 H122.50 V768.75 H124.36 V770.22 H126.25 V773.75 H127.66 V776.66 H130.00 V778.75 H133.33 V781.33 H135.00 V783.75 H137.29 V785.83 H140.00 V788.75 H142.80 V790.42 H145.00 V792.50 H148.04 V794.82 H150.00 V796.25 H152.17 V799.06 H155.00 V801.25 H156.82 V803.25 H160.00 V805.00 H162.00 V806.70 H165.00 V808.75 H167.77 V810.95 H170.00 V813.75 H173.77 V815.70 H176.25 V817.50 H180.08 V819.15 H182.50 V821.25 H186.37 V823.11 H188.75 V824.50 H195.00 V827.00 H201.25 V828.75 H207.50 V831.25 H213.75 V833.75 H220.00 V835.50 H227.50 V837.50 H235.00 V839.50 H242.50 V841.75 H250.00 V843.25 H260.00 V843.60 H270.00 V843.90 H278.10 V845.80 H297.00 V847.20 H313.10 V848.30 H323.90 V850.40 H337.40 V852.60 H350.90 V854.50 H364.30 V856.40 H377.80 V858.00 H383.20 V859.40 H400.70 V859.90" fill="none" stroke="#111" stroke-width="1.35" stroke-linejoin="miter"/>
<path d="M73.25 660.50 H74.50 V662.50 M74.50 662.50 H75.75 V675.00 M75.75 675.00 H77.50 V683.75 M77.50 683.75 H78.37 V687.31 H79.50 V692.50 M79.50 692.50 H81.25 V700.00 M81.25 700.00 H83.00 V707.50 M83.00 707.50 H83.94 V710.48 H85.00 V715.00 M85.00 715.00 H86.26 V718.27 H87.00 V721.25 M87.00 721.25 H88.54 V723.21 H89.50 V727.50 M89.50 727.50 H90.95 V729.80 H92.00 V732.50 M92.00 732.50 H93.77 V734.64 H95.00 V736.25 M95.00 736.25 H96.42 V737.47 H98.75 V739.50 M98.75 739.50 H100.93 V740.97 H102.50 V742.50 M102.50 742.50 H104.26 V743.64 H106.25 V745.50 M106.25 745.50 H108.42 V748.42 H110.00 V750.00 M110.00 750.00 H111.71 V752.72 H112.98 V754.62 H113.75 V756.25 M113.75 756.25 H115.33 V758.58 H116.36 V760.63 H117.50 V761.50 M117.50 761.50 H120.00 V763.75 M120.00 763.75 H120.93 V766.66 H122.50 V768.75 M122.50 768.75 H124.36 V770.22 H126.25 V773.75 M126.25 773.75 H127.66 V776.66 H130.00 V778.75 M130.00 778.75 H133.33 V781.33 H135.00 V783.75 M135.00 783.75 H137.29 V785.83 H140.00 V788.75 M140.00 788.75 H142.80 V790.42 H145.00 V792.50 M145.00 792.50 H148.04 V794.82 H150.00 V796.25 M150.00 796.25 H152.17 V799.06 H155.00 V801.25 M155.00 801.25 H156.82 V803.25 H160.00 V805.00 M160.00 805.00 H162.00 V806.70 H165.00 V808.75 M165.00 808.75 H167.77 V810.95 H170.00 V813.75 M170.00 813.75 H173.77 V815.70 H176.25 V817.50 M176.25 817.50 H180.08 V819.15 H182.50 V821.25 M182.50 821.25 H186.37 V823.11 H188.75 V824.50 M188.75 824.50 H195.00 V827.00 M195.00 827.00 H201.25 V828.75 M201.25 828.75 H207.50 V831.25 M207.50 831.25 H213.75 V833.75 M213.75 833.75 H220.00 V835.50 M220.00 835.50 H227.50 V837.50 M227.50 837.50 H235.00 V839.50 M235.00 839.50 H242.50 V841.75 M270.00 843.90 H278.10 V845.80 M377.80 858.00 H383.20 V859.40" fill="none" stroke="#000" stroke-width="1.8" stroke-linejoin="round" stroke-linecap="round"/>
<text x="85.7" y="226.10" font-size="17.2" font-style="italic" textLength="12.9" lengthAdjust="spacingAndGlyphs" stroke="#000" stroke-width="0.3">P</text>
<text x="101.9" y="226.10" font-size="17.2" textLength="10.1" lengthAdjust="spacingAndGlyphs" stroke="#000" stroke-width="0.3">=</text>
<text x="117.3" y="226.10" font-size="17.2" textLength="34.8" lengthAdjust="spacingAndGlyphs" stroke="#000" stroke-width="0.3">.003</text>
<text x="85.7" y="571.10" font-size="17.2" font-style="italic" textLength="12.9" lengthAdjust="spacingAndGlyphs" stroke="#000" stroke-width="0.3">P</text>
<text x="101.9" y="571.10" font-size="17.2" textLength="10.1" lengthAdjust="spacingAndGlyphs" stroke="#000" stroke-width="0.3">=</text>
<text x="117.3" y="571.10" font-size="17.2" textLength="35.2" lengthAdjust="spacingAndGlyphs" stroke="#000" stroke-width="0.3">.004</text>
<text x="85.7" y="877.10" font-size="17.2" font-style="italic" textLength="12.9" lengthAdjust="spacingAndGlyphs" stroke="#000" stroke-width="0.3">P</text>
<text x="101.9" y="877.10" font-size="17.2" textLength="10.1" lengthAdjust="spacingAndGlyphs" stroke="#000" stroke-width="0.3">=</text>
<text x="117.3" y="877.10" font-size="17.2" textLength="25.2" lengthAdjust="spacingAndGlyphs" stroke="#000" stroke-width="0.3">.16</text>
<text x="137.90" y="35.00" font-size="18.50" textLength="96.2" lengthAdjust="spacingAndGlyphs" xml:space="preserve" stroke="#000" stroke-width="0.3">All patients</text>
<text x="263.80" y="141.50" font-size="17.60" textLength="62.8" lengthAdjust="spacingAndGlyphs" xml:space="preserve" stroke="#000" stroke-width="0.3">DNR 90</text>
<text x="186.40" y="172.70" font-size="17.60" textLength="63.8" lengthAdjust="spacingAndGlyphs" xml:space="preserve" stroke="#000" stroke-width="0.3">DNR 45</text>
<text x="358.80" y="149.60" font-size="19.30" textLength="57.2" lengthAdjust="spacingAndGlyphs" xml:space="preserve" stroke="#000" stroke-width="0.3">n=327</text>
<text x="289.80" y="194.50" font-size="19.30" textLength="58.0" lengthAdjust="spacingAndGlyphs" xml:space="preserve" stroke="#000" stroke-width="0.3">n=330</text>
<text x="181.30" y="321.1" font-size="15.9" textLength="78.2" lengthAdjust="spacingAndGlyphs" stroke="#000" stroke-width="0.15">Favorable</text>
<text x="266.00" y="321.1" font-size="15.9" textLength="13.4" lengthAdjust="spacingAndGlyphs" stroke="#000" stroke-width="0.15">&amp;</text>
<text x="285.00" y="321.1" font-size="15.9" textLength="107.0" lengthAdjust="spacingAndGlyphs" stroke="#000" stroke-width="0.15">Intermediate</text>
<text x="399.80" y="321.1" font-size="15.9" textLength="104.2" lengthAdjust="spacingAndGlyphs" stroke="#000" stroke-width="0.15">Cytogenetics</text>
<text x="218.60" y="447.90" font-size="17.60" textLength="63.2" lengthAdjust="spacingAndGlyphs" xml:space="preserve" stroke="#000" stroke-width="0.3">DNR 90</text>
<text x="181.20" y="504.10" font-size="17.60" textLength="63.8" lengthAdjust="spacingAndGlyphs" xml:space="preserve" stroke="#000" stroke-width="0.3">DNR 45</text>
<text x="311.40" y="471.00" font-size="18.80" textLength="51.4" lengthAdjust="spacingAndGlyphs" xml:space="preserve" stroke="#000" stroke-width="0.3">n=178</text>
<text x="314.00" y="533.50" font-size="18.80" textLength="52.0" lengthAdjust="spacingAndGlyphs" xml:space="preserve" stroke="#000" stroke-width="0.3">n=180</text>
<text x="149.80" y="684.10" font-size="18.50" textLength="96.4" lengthAdjust="spacingAndGlyphs" xml:space="preserve" stroke="#000" stroke-width="0.3">All patients</text>
<text x="207.00" y="814.30" font-size="17.60" textLength="68.0" lengthAdjust="spacingAndGlyphs" xml:space="preserve" stroke="#000" stroke-width="0.3">DNR  90</text>
<text x="168.40" y="856.50" font-size="17.60" textLength="68.8" lengthAdjust="spacingAndGlyphs" xml:space="preserve" stroke="#000" stroke-width="0.3">DNR  45</text>
<text x="283.00" y="834.70" font-size="18.60" textLength="52.2" lengthAdjust="spacingAndGlyphs" xml:space="preserve" stroke="#000" stroke-width="0.3">n=402</text>
<text x="282.50" y="867.10" font-size="18.60" textLength="48.6" lengthAdjust="spacingAndGlyphs" xml:space="preserve" stroke="#000" stroke-width="0.3">n=411</text>
</svg>
</body></html>
